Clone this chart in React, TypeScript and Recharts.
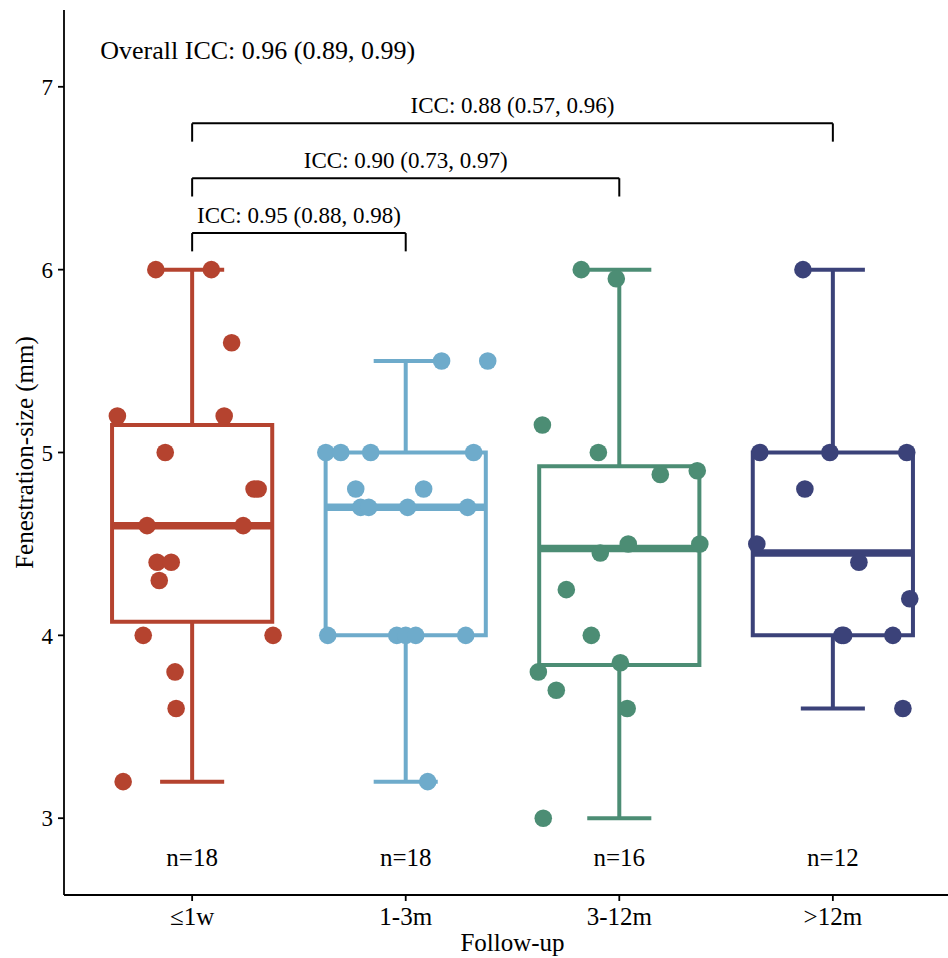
import React from 'react'
import {
  ComposedChart,
  Scatter,
  XAxis,
  YAxis,
  ReferenceArea,
  ReferenceLine,
  Label,
} from 'recharts'

const FONT = '"Liberation Serif", "Times New Roman", serif'

const categories = ['≤1w', '1-3m', '3-12m', '>12m']
const colors = ['#B5432F', '#6EABCB', '#4C8D74', '#3B4279']

// measured sizes per group, with the horizontal jitter of each point
const w1Values = [6.0, 6.0, 5.6, 5.2, 5.2, 5.0, 4.8, 4.8, 4.6, 4.6, 4.4, 4.4, 4.3, 4.0, 4.0, 3.8, 3.6, 3.2]
const w1Jitter = [-0.17, 0.09, 0.185, -0.35, 0.15, -0.126, 0.29, 0.309, -0.211, 0.239, -0.164, -0.098, -0.154, -0.229, 0.379, -0.08, -0.075, -0.323]

const m3Values = [5.5, 5.5, 5.0, 5.0, 5.0, 5.0, 4.8, 4.8, 4.7, 4.7, 4.7, 4.7, 4.0, 4.0, 4.0, 4.0, 4.0, 3.2]
const m3Jitter = [0.168, 0.384, -0.374, -0.304, -0.164, 0.318, -0.234, 0.084, -0.211, -0.173, 0.009, 0.29, -0.365, -0.042, 0, 0.047, 0.281, 0.103]

const m12Values = [6.0, 5.95, 5.15, 5.0, 4.88, 4.9, 4.45, 4.5, 4.5, 4.25, 4.0, 3.8, 3.85, 3.7, 3.6, 3.0]
const m12Jitter = [-0.178, -0.014, -0.36, -0.098, 0.192, 0.365, -0.089, 0.042, 0.377, -0.248, -0.131, -0.379, 0.005, -0.295, 0.037, -0.356]

const gt12Values = [6.0, 5.0, 5.0, 5.0, 4.8, 4.5, 4.4, 4.2, 4.0, 4.0, 4.0, 3.6]
const gt12Jitter = [-0.14, -0.342, -0.014, 0.346, -0.131, -0.356, 0.122, 0.36, 0.042, 0.051, 0.281, 0.328]

const groupValues = [w1Values, m3Values, m12Values, gt12Values]
const groupJitter = [w1Jitter, m3Jitter, m12Jitter, gt12Jitter]

const bracketFrom = [1, 1, 1]
const bracketTo = [2, 3, 4]
const bracketY = [6.2, 6.5, 6.8]
const bracketLabels = ['ICC: 0.95 (0.88, 0.98)', 'ICC: 0.90 (0.73, 0.97)', 'ICC: 0.88 (0.57, 0.96)']
const overallLabel = 'Overall ICC: 0.96 (0.89, 0.99)'

const yTicks = [3, 4, 5, 6, 7]

function quantile(sorted: number[], p: number) {
  const h = (sorted.length - 1) * p
  const lo = Math.floor(h)
  const hi = Math.ceil(h)
  return sorted[lo] + (h - lo) * (sorted[hi] - sorted[lo])
}

function boxStats(values: number[]) {
  const s = [...values].sort((a, b) => a - b)
  const q1 = quantile(s, 0.25)
  const med = quantile(s, 0.5)
  const q3 = quantile(s, 0.75)
  const iqr = q3 - q1
  const lo = Math.min(...s.filter((v) => v >= q1 - 1.5 * iqr))
  const hi = Math.max(...s.filter((v) => v <= q3 + 1.5 * iqr))
  return { q1, med, q3, lo, hi }
}

const stats = groupValues.map(boxStats)

const pointData = groupValues.map((vals, g) =>
  vals.map((v, i) => ({ x: g + 1 + groupJitter[g][i], y: v }))
)

const nLabelData = groupValues.map((vals, g) => ({ x: g + 1, y: 2.74, text: `n=${vals.length}`, anchor: 'middle', size: 25 }))
const bracketLabelData = bracketLabels.map((t, i) => ({
  x: (bracketFrom[i] + bracketTo[i]) / 2,
  y: bracketY[i] + 0.056,
  text: t,
  anchor: 'middle',
  size: 23,
}))
const overallData = [{ x: 0.57, y: 7.15, text: overallLabel, anchor: 'start', size: 26 }]

const BOX_HALF = 0.375
const CAP_HALF = 0.15
const BRACKET_DROP = 0.1

const TextShape = (props: any) => {
  const { cx, cy, payload } = props
  return (
    <text x={cx} y={cy} textAnchor={payload.anchor} fontFamily={FONT} fontSize={payload.size} fill="#000">
      {payload.text}
    </text>
  )
}

export default function App() {
  return (
    <div style={{ position: 'absolute', left: 0, top: 0, width: 948, height: 958, overflow: 'hidden', background: '#fff' }}>
      <ComposedChart width={964} height={958} margin={{ top: 10, right: 3, bottom: 0, left: 0 }}>
        <XAxis
          type="number"
          dataKey="x"
          domain={[0.4, 4.6]}
          ticks={[1, 2, 3, 4]}
          allowDataOverflow
          tickFormatter={(v: number) => categories[v - 1]}
          height={63}
          tickSize={6}
          tickMargin={6}
          axisLine={{ stroke: '#000', strokeWidth: 1.8 }}
          tickLine={{ stroke: '#000', strokeWidth: 1.8 }}
          tick={{ fill: '#000', fontSize: 25, fontFamily: FONT }}
        >
          <Label
            content={(p: any) => (
              <text
                x={p.viewBox.x + p.viewBox.width / 2}
                y={p.viewBox.y + p.viewBox.height - 7}
                textAnchor="middle"
                fontFamily={FONT}
                fontSize={25}
                fill="#000"
              >
                Follow-up
              </text>
            )}
          />
        </XAxis>
        <YAxis
          type="number"
          dataKey="y"
          domain={[2.58, 7.42]}
          ticks={yTicks}
          allowDataOverflow
          width={64}
          tickSize={6}
          tickMargin={5}
          axisLine={{ stroke: '#000', strokeWidth: 1.8 }}
          tickLine={{ stroke: '#000', strokeWidth: 1.8 }}
          tick={{ fill: '#000', fontSize: 23, fontFamily: FONT }}
        >
          <Label
            content={(p: any) => {
              const cx = 33
              const cy = p.viewBox.y + p.viewBox.height / 2
              return (
                <text
                  x={cx}
                  y={cy}
                  transform={`rotate(-90 ${cx} ${cy})`}
                  textAnchor="middle"
                  fontFamily={FONT}
                  fontSize={25}
                  fill="#000"
                >
                  Fenestration-size (mm)
                </text>
              )
            }}
          />
        </YAxis>

        {stats.map((s, g) => (
          <ReferenceArea
            key={`box${g}`}
            x1={g + 1 - BOX_HALF}
            x2={g + 1 + BOX_HALF}
            y1={s.q1}
            y2={s.q3}
            fill="none"
            fillOpacity={0}
            stroke={colors[g]}
            strokeWidth={4}
            strokeOpacity={1}
          />
        ))}
        {stats.map((s, g) => (
          <ReferenceLine
            key={`med${g}`}
            segment={[{ x: g + 1 - BOX_HALF, y: s.med }, { x: g + 1 + BOX_HALF, y: s.med }]}
            stroke={colors[g]}
            strokeWidth={7.5}
          />
        ))}
        {stats.map((s, g) => (
          <ReferenceLine
            key={`wu${g}`}
            segment={[{ x: g + 1, y: s.q3 }, { x: g + 1, y: s.hi }]}
            stroke={colors[g]}
            strokeWidth={4}
          />
        ))}
        {stats.map((s, g) => (
          <ReferenceLine
            key={`wl${g}`}
            segment={[{ x: g + 1, y: s.q1 }, { x: g + 1, y: s.lo }]}
            stroke={colors[g]}
            strokeWidth={4}
          />
        ))}
        {stats.map((s, g) => (
          <ReferenceLine
            key={`cu${g}`}
            segment={[{ x: g + 1 - CAP_HALF, y: s.hi }, { x: g + 1 + CAP_HALF, y: s.hi }]}
            stroke={colors[g]}
            strokeWidth={4}
          />
        ))}
        {stats.map((s, g) => (
          <ReferenceLine
            key={`cl${g}`}
            segment={[{ x: g + 1 - CAP_HALF, y: s.lo }, { x: g + 1 + CAP_HALF, y: s.lo }]}
            stroke={colors[g]}
            strokeWidth={4}
          />
        ))}

        {bracketY.map((y, i) => (
          <ReferenceLine
            key={`bh${i}`}
            segment={[{ x: bracketFrom[i], y }, { x: bracketTo[i], y }]}
            stroke="#000"
            strokeWidth={2}
          />
        ))}
        {bracketY.map((y, i) => (
          <ReferenceLine
            key={`bl${i}`}
            segment={[{ x: bracketFrom[i], y }, { x: bracketFrom[i], y: y - BRACKET_DROP }]}
            stroke="#000"
            strokeWidth={2}
          />
        ))}
        {bracketY.map((y, i) => (
          <ReferenceLine
            key={`br${i}`}
            segment={[{ x: bracketTo[i], y }, { x: bracketTo[i], y: y - BRACKET_DROP }]}
            stroke="#000"
            strokeWidth={2}
          />
        ))}

        {pointData.map((d, g) => (
          <Scatter
            key={`pts${g}`}
            data={d}
            isAnimationActive={false}
            shape={(p: any) => <circle cx={p.cx} cy={p.cy} r={8.8} fill={colors[g]} />}
          />
        ))}

        <Scatter data={nLabelData} isAnimationActive={false} shape={TextShape} />
        <Scatter data={bracketLabelData} isAnimationActive={false} shape={TextShape} />
        <Scatter data={overallData} isAnimationActive={false} shape={TextShape} />
      </ComposedChart>
    </div>
  )
}
